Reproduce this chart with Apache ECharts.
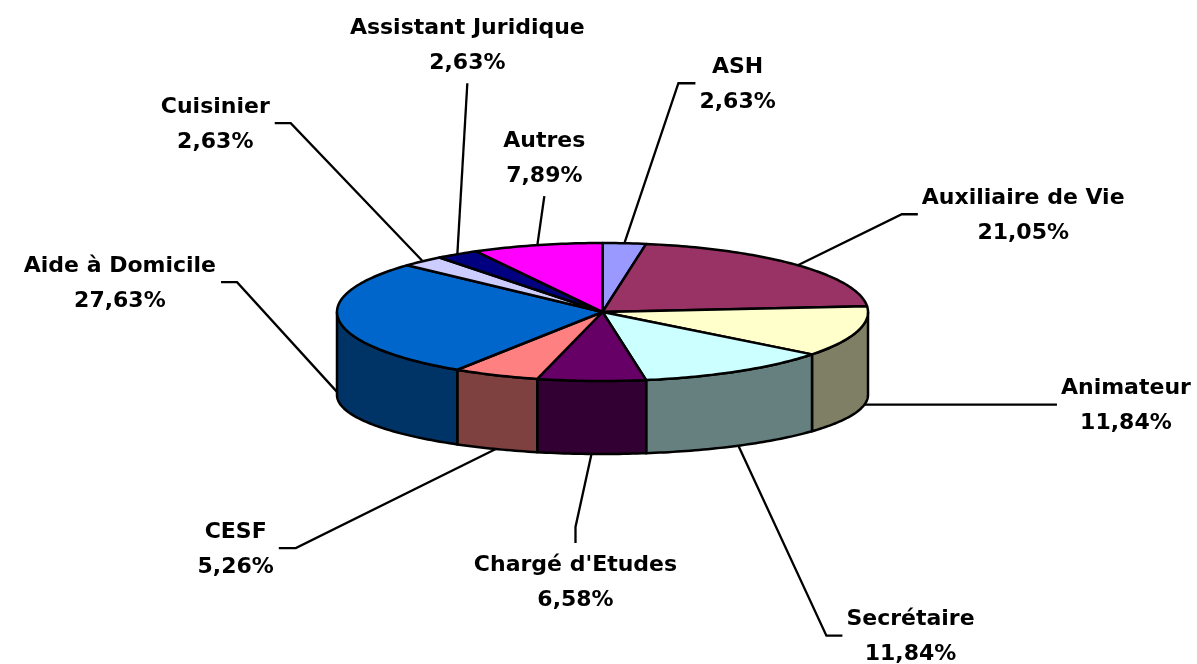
<!DOCTYPE html>
<html><head><meta charset="utf-8">
<script src="https://cdn.jsdelivr.net/npm/echarts@6/dist/echarts.min.js"></script>
<style>html,body{margin:0;padding:0;background:#fff}#c{width:1197px;height:664px}</style>
</head><body><div id="c"></div>
<script>
// ---- data ----
const categories = ['ASH', 'Auxiliaire de Vie', 'Animateur', 'Secrétaire', "Chargé d'Etudes", 'CESF', 'Aide à Domicile', 'Cuisinier', 'Assistant Juridique', 'Autres'];
const values = [2.63, 21.05, 11.84, 11.84, 6.58, 5.26, 27.63, 2.63, 2.63, 7.89];
const colors = ['#9999FF', '#993366', '#FFFFCC', '#CCFFFF', '#660066', '#FF8080', '#0066CC', '#CCCCFF', '#000080', '#FF00FF'];

// ---- label layout (leader line offsets in px, relative to slice anchor) ----
const labelLayout = [
  {h: 0,    d: [54, -160],   seg: [17, 0],  side: 'right'},
  {h: 0,    d: [104, -51],   seg: [16, 0],  side: 'right'},
  {h: 0.91, d: [0, 0],       seg: [200, 0], side: 'right'},
  {h: 1,    d: [88, 190],    seg: [16, 0],  side: 'right'},
  {h: 1,    d: [-16, 73],    seg: [0, 16],  side: 'below'},
  {h: 1,    d: [-200, 99],   seg: [-17, 0], side: 'left'},
  {h: 0.9,  d: [-102, -112], seg: [-16, 0], side: 'left'},
  {h: 0,    d: [-132, -138], seg: [-16, 0], side: 'left'},
  {h: 0,    d: [10, -171],   seg: [0, 0],   side: 'above'},
  {h: 0,    d: [7, -49],     seg: [0, 0],   side: 'above'}
];

const FONT_FAMILY = '"DejaVu Sans", sans-serif';
const FONT_SIZE = 22;
const LINE_H = 35;

const total = values.reduce((a, b) => a + b, 0);
const starts = [], ends = [];
let acc = 0;
values.forEach(v => { starts.push(acc / total * 360); acc += v; ends.push(acc / total * 360); });

const DEPTH = 83 / 69, BS = 59 / 69;
const rad = d => d * Math.PI / 180;
const topPt = (api, deg) => api.coord([Math.sin(rad(deg)), Math.cos(rad(deg))]);
const botPt = (api, deg) => api.coord([Math.sin(rad(deg)), -DEPTH + BS * Math.cos(rad(deg))]);

function darken(hex) {
  const n = parseInt(hex.slice(1), 16);
  const r = (n >> 16) & 255, g = (n >> 8) & 255, b = n & 255;
  const h = c => Math.floor(c / 2).toString(16).padStart(2, '0');
  return '#' + h(r) + h(g) + h(b);
}

const mctx = document.createElement('canvas').getContext('2d');
mctx.font = 'bold ' + FONT_SIZE + 'px ' + FONT_FAMILY;
const measure = s => mctx.measureText(s).width;

function renderTop(params, api) {
  const i = params.dataIndex;
  const a = starts[i], b = ends[i];
  const n = Math.max(2, Math.ceil(b - a));
  const pts = [api.coord([0, 0])];
  for (let k = 0; k <= n; k++) pts.push(topPt(api, a + (b - a) * k / n));
  return {type: 'polygon', shape: {points: pts},
    style: {fill: colors[i], stroke: '#000', lineWidth: 2.5, lineJoin: 'round'}};
}

function renderSide(params, api) {
  const i = params.dataIndex;
  const lo = Math.max(starts[i], 90), hi = Math.min(ends[i], 270);
  if (hi <= lo) return {type: 'group', children: []};
  const n = Math.max(2, Math.ceil(hi - lo));
  const pts = [];
  for (let k = 0; k <= n; k++) pts.push(topPt(api, lo + (hi - lo) * k / n));
  for (let k = n; k >= 0; k--) pts.push(botPt(api, lo + (hi - lo) * k / n));
  return {type: 'polygon', shape: {points: pts},
    style: {fill: darken(colors[i]), stroke: '#000', lineWidth: 2.5, lineJoin: 'round'}};
}

function renderLabel(params, api) {
  const i = params.dataIndex;
  const L = labelLayout[i];
  const mid = (starts[i] + ends[i]) / 2;
  const t = topPt(api, mid), b = botPt(api, mid);
  const ax = t[0], ay = t[1] + (b[1] - t[1]) * L.h;
  const ex = ax + L.d[0], ey = ay + L.d[1];
  const fx = ex + L.seg[0], fy = ey + L.seg[1];
  const pct = values[i].toFixed(2).replace('.', ',') + '%';
  const w = Math.max(measure(categories[i]), measure(pct));
  let tx, ty, va;
  if (L.side === 'right') { tx = fx + 4 + w / 2; ty = fy + 1.5; va = 'middle'; }
  else if (L.side === 'left') { tx = fx - 5 - w / 2; ty = fy + 1.5; va = 'middle'; }
  else if (L.side === 'below') { tx = fx; ty = fy + 5; va = 'top'; }
  else { tx = fx; ty = fy - 2; va = 'bottom'; }
  return {type: 'group', children: [
    {type: 'polyline', shape: {points: [[ax, ay], [ex, ey], [fx, fy]]},
      style: {stroke: '#000', lineWidth: 2.3, fill: null}},
    {type: 'text', x: tx, y: ty,
      style: {text: categories[i] + '\n' + pct, fill: '#000', fontSize: FONT_SIZE, fontWeight: 'bold',
        fontFamily: FONT_FAMILY, align: 'center', verticalAlign: va, lineHeight: LINE_H}}
  ]};
}

const seriesData = values.map((v, i) => [i, v]);
const chart = echarts.init(document.getElementById('c'), null, {renderer: 'canvas'});
chart.setOption({
  animation: false,
  backgroundColor: '#ffffff',
  grid: {left: 337, top: 243, width: 531, height: 138},
  xAxis: {type: 'value', min: -1, max: 1, show: false},
  yAxis: {type: 'value', min: -1, max: 1, show: false},
  series: [
    {type: 'custom', coordinateSystem: 'cartesian2d', z: 1, clip: false, renderItem: renderLabel, data: seriesData, silent: true},
    {type: 'custom', coordinateSystem: 'cartesian2d', z: 2, clip: false, renderItem: renderSide, data: seriesData, silent: true},
    {type: 'custom', coordinateSystem: 'cartesian2d', z: 3, clip: false, renderItem: renderTop, data: seriesData, silent: true}
  ]
});
</script></body></html>
